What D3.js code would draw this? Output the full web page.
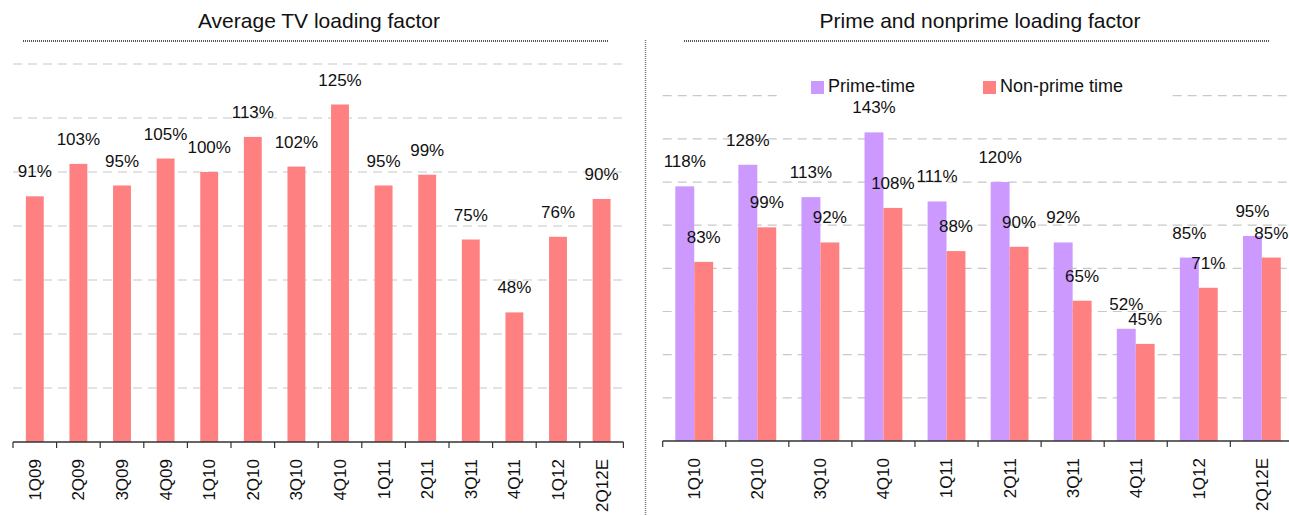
<!DOCTYPE html>
<html>
<head>
<meta charset="utf-8">
<script src="https://cdn.jsdelivr.net/npm/d3@7"></script>
<style>
  body { margin: 0; background: #fff; }
  svg { display: block; font-family: "Liberation Sans", Arial, sans-serif; }
</style>
</head>
<body>
<svg id="chart" width="1289" height="515"></svg>
<script>
// left panel data
const quartersLeft = ['1Q09', '2Q09', '3Q09', '4Q09', '1Q10', '2Q10', '3Q10', '4Q10', '1Q11', '2Q11', '3Q11', '4Q11', '1Q12', '2Q12E'];
const avgLoading = [91, 103, 95, 105, 100, 113, 102, 125, 95, 99, 75, 48, 76, 90];

// right panel data
const quartersRight = ['1Q10', '2Q10', '3Q10', '4Q10', '1Q11', '2Q11', '3Q11', '4Q11', '1Q12', '2Q12E'];
const primeTime = [118, 128, 113, 143, 111, 120, 92, 52, 85, 95];
const nonPrime = [83, 99, 92, 108, 88, 90, 65, 45, 71, 85];
const seriesNames = ['Prime-time', 'Non-prime time'];
const seriesColors = ['#CC99FF', '#FF8080'];

const svg = d3.select('#chart');
const textColor = '#111';

function drawTitle(text, cx, x1, x2) {
    svg.append('text')
        .attr('x', cx).attr('y', 28)
        .attr('text-anchor', 'middle')
        .attr('font-size', 21)
        .attr('fill', textColor)
        .text(text);
    svg.append('line')
        .attr('x1', x1).attr('x2', x2)
        .attr('y1', 41).attr('y2', 41)
        .attr('stroke', '#555')
        .attr('stroke-width', 2)
        .attr('stroke-dasharray', '1,1');
}

function drawGrid(y, ticks, x1, x2) {
    svg.append('g')
        .selectAll('line')
        .data(ticks)
        .enter().append('line')
        .attr('x1', x1).attr('x2', x2)
        .attr('y1', d => y(d)).attr('y2', d => y(d))
        .attr('stroke', '#c8c8c8')
        .attr('stroke-width', 1.2)
        .attr('stroke-dasharray', '9,6');
}

function drawXAxis(x, y0, cats, lineEnd) {
    const [r0] = x.range();
    const step = x.step();
    svg.append('line')
        .attr('x1', r0).attr('x2', lineEnd)
        .attr('y1', y0).attr('y2', y0)
        .attr('stroke', '#333')
        .attr('stroke-width', 1.5);
    svg.append('g')
        .selectAll('line')
        .data(d3.range(cats.length + 1))
        .enter().append('line')
        .attr('x1', i => r0 + i * step).attr('x2', i => r0 + i * step)
        .attr('y1', y0).attr('y2', y0 + 6)
        .attr('stroke', '#333')
        .attr('stroke-width', 1.2);
    svg.append('g')
        .selectAll('text')
        .data(cats)
        .enter().append('text')
        .attr('transform', d => `translate(${x(d) + x.bandwidth() / 2},${y0 + 17}) rotate(-90)`)
        .attr('text-anchor', 'end')
        .attr('dy', '0.35em')
        .attr('font-size', 17)
        .attr('fill', textColor)
        .text(d => d);
}

// ---------- left panel ----------
const xL = d3.scaleBand().domain(quartersLeft).range([13, 623.4]).paddingInner(0.59).paddingOuter(0.295);
const yL = d3.scaleLinear().domain([0, 140]).range([442, 64]);

drawTitle('Average TV loading factor', 319, 23, 609);
drawGrid(yL, d3.range(20, 141, 20), 13, 623);

svg.append('g')
    .selectAll('rect')
    .data(avgLoading)
    .enter().append('rect')
    .attr('x', (d, i) => xL(quartersLeft[i]))
    .attr('width', xL.bandwidth())
    .attr('y', d => yL(d))
    .attr('height', d => yL(0) - yL(d))
    .attr('fill', '#FF8080');

svg.append('g')
    .selectAll('text')
    .data(avgLoading)
    .enter().append('text')
    .attr('x', (d, i) => xL(quartersLeft[i]) + xL.bandwidth() / 2)
    .attr('y', d => yL(d) - 19)
    .attr('text-anchor', 'middle')
    .attr('font-size', 17)
    .attr('fill', textColor)
    .text(d => d + '%');

drawXAxis(xL, 442, quartersLeft, 623.4);

// separator
svg.append('line')
    .attr('x1', 645.5).attr('x2', 645.5)
    .attr('y1', 40).attr('y2', 515)
    .attr('stroke', '#777')
    .attr('stroke-width', 1.5)
    .attr('stroke-dasharray', '1,1');

// ---------- right panel ----------
const xR = d3.scaleBand().domain(quartersRight).range([662.7, 1293.4]).paddingInner(0.4).paddingOuter(0.2);
const xSub = d3.scaleBand().domain(seriesNames).range([0, xR.bandwidth()]);
const yR = d3.scaleLinear().domain([0, 160]).range([441, 95.7]);

drawTitle('Prime and nonprime loading factor', 980, 684, 1269);
drawGrid(yR, d3.range(20, 161, 20), 662.7, 1289);

const seriesData = [primeTime, nonPrime];

seriesData.forEach((vals, s) => {
    svg.append('g')
        .selectAll('rect')
        .data(vals)
        .enter().append('rect')
        .attr('x', (d, i) => xR(quartersRight[i]) + xSub(seriesNames[s]))
        .attr('width', xSub.bandwidth())
        .attr('y', d => yR(d))
        .attr('height', d => yR(0) - yR(d))
        .attr('fill', seriesColors[s]);
});

// legend (white box hides the grid behind it)
svg.append('rect')
    .attr('x', 777).attr('y', 72)
    .attr('width', 392).attr('height', 32)
    .attr('fill', '#fff');
const legendX = [811, 983];
seriesNames.forEach((name, s) => {
    svg.append('rect')
        .attr('x', legendX[s]).attr('y', 81)
        .attr('width', 13).attr('height', 13)
        .attr('fill', seriesColors[s]);
    svg.append('text')
        .attr('x', legendX[s] + 17).attr('y', 92)
        .attr('font-size', 18)
        .attr('fill', textColor)
        .text(name);
});

seriesData.forEach((vals, s) => {
    svg.append('g')
        .selectAll('text')
        .data(vals)
        .enter().append('text')
        .attr('x', (d, i) => xR(quartersRight[i]) + xSub(seriesNames[s]) + xSub.bandwidth() / 2)
        .attr('y', d => yR(d) - 19)
        .attr('text-anchor', 'middle')
        .attr('font-size', 17)
        .attr('fill', textColor)
        .text(d => d + '%');
});

drawXAxis(xR, 441, quartersRight, 1289);
</script>
</body>
</html>
